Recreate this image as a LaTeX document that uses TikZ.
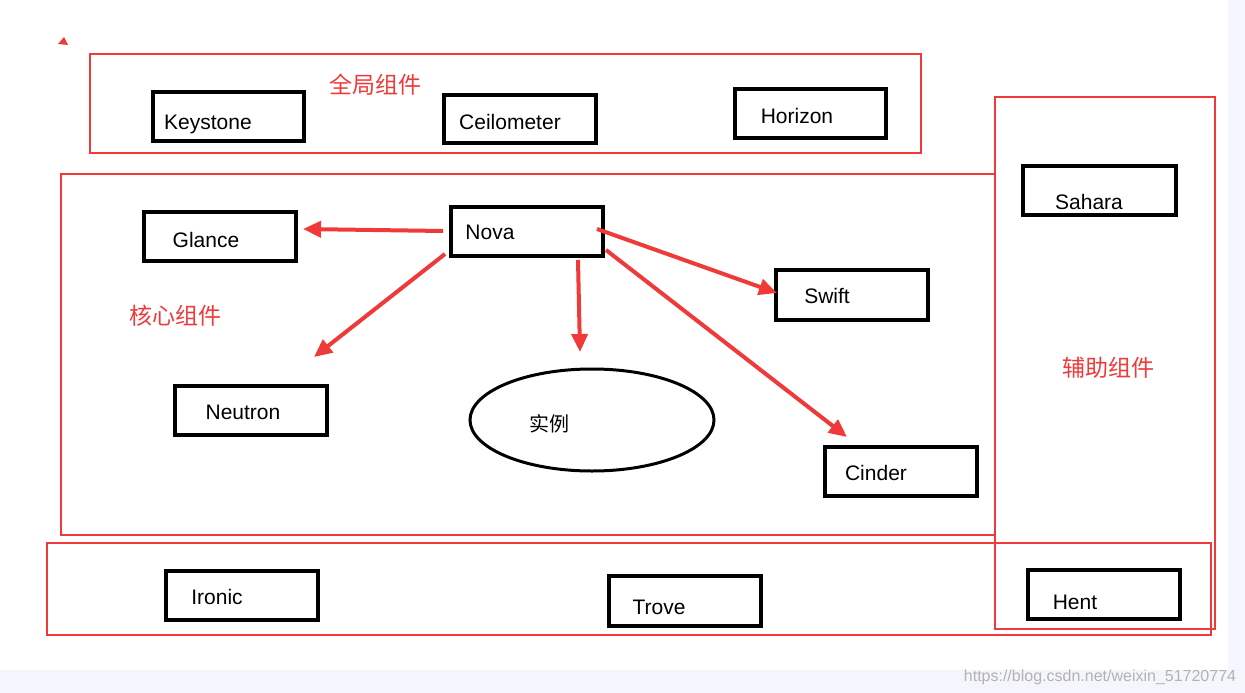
\documentclass[tikz,border=0pt]{standalone}
\usepackage{fontspec}
\setmainfont{Liberation Sans}
\newfontfamily\cjk{Noto Sans CJK SC}
\usetikzlibrary{arrows.meta}
\definecolor{rd}{HTML}{F03A3A}
\begin{document}
\begin{tikzpicture}[x=1pt,y=-1pt,
  rbox/.style={draw=rd,line width=2pt},
  bbox/.style={draw=black,line width=3.5pt},
  lab/.style={font=\fontsize{21}{21}\selectfont,anchor=center},
  clab/.style={font=\cjk\fontsize{23}{23}\selectfont,text=rd},
  arr/.style={draw=rd,line width=4pt,-{Triangle[length=18pt,width=16pt]}}]
\useasboundingbox (0,0) rectangle (1245,693);
\fill[white] (0,0) rectangle (1245,693);
\fill[black!12!blue!4] (1228,0) rectangle (1245,693);
\fill[black!12!blue!4] (0,670) rectangle (1245,693);
\node[font=\fontsize{16}{16}\selectfont,text=black!30] (wm) at (1100,677) {https://blog.csdn.net/weixin\_51720774};
\fill[rd] (58,44) -- (68,45) -- (64,37) -- cycle;
\draw[rbox] (90,54) rectangle (921,153);
\draw[rbox] (61,174) rectangle (995,535);
\draw[rbox] (995,97) rectangle (1215,629);
\draw[rbox] (47,543) rectangle (1211,635);
\node[clab] (t1) at (375,85) {全局组件};
\node[clab] (t2) at (175,316) {核心组件};
\node[clab] (t3) at (1108,368) {辅助组件};
\foreach \n/\a/\b/\c/\d/\tx/\ty/\t in {
 key/153/92/304/141/208/124/Keystone,
 cei/444/95/596/143/510/122/Ceilometer,
 hor/735/89/886/138/797/116/Horizon,
 sah/1023/166/1176/215/1089/202/Sahara,
 gla/144/212/296/261/206/240/Glance,
 nova/451/207/603/256/490/232/Nova,
 swi/776/270/928/320/827/296/Swift,
 neu/175/386/327/435/243/412/Neutron,
 cin/825/447/977/496/876/473/Cinder,
 iro/166/571/318/620/217/597/Ironic,
 tro/609/576/761/626/659/607/Trove,
 hen/1028/570/1180/619/1075/602/Hent}{
 \draw[bbox] (\a,\b) rectangle (\c,\d);
 \node[lab] (\n) at (\tx,\ty) {\t};
}
\draw[black,line width=3pt] (592,420) ellipse [x radius=122,y radius=51];
\node[font=\cjk\fontsize{20}{20}\selectfont] (sl) at (549,424) {实例};
\coordinate (s1) at (443,231); \coordinate (e1) at (303,229);
\coordinate (s2) at (445,254); \coordinate (e2) at (314,357);
\coordinate (s3) at (578,260); \coordinate (e3) at (580,352);
\coordinate (s4) at (597,229); \coordinate (e4) at (777,293);
\coordinate (s5) at (606,250); \coordinate (e5) at (847,437);
\foreach \i in {1,...,5}{\draw[arr] (s\i) -- (e\i);}
\end{tikzpicture}
\end{document}
